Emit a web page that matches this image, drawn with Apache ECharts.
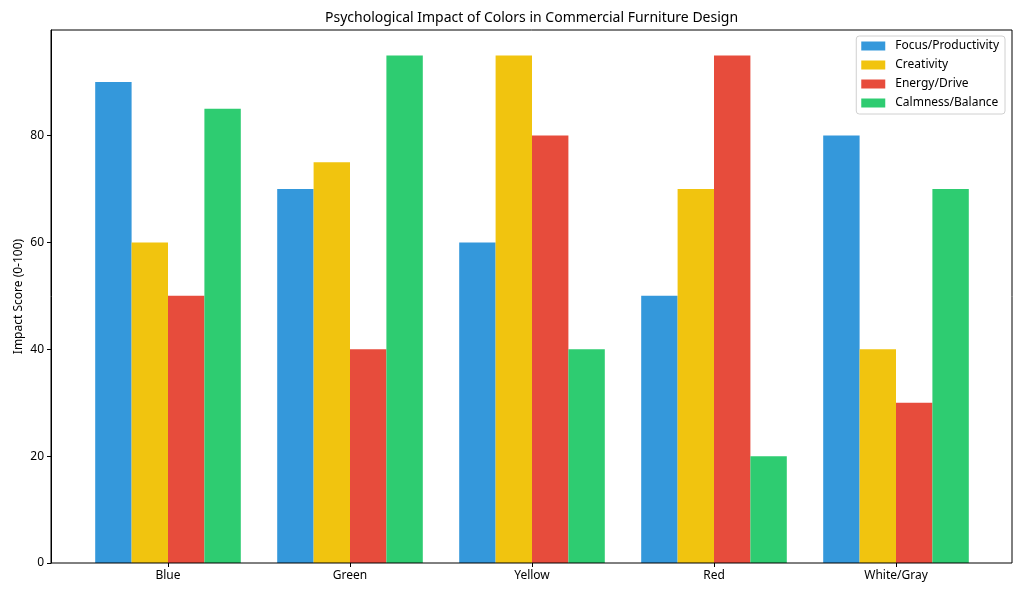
<!DOCTYPE html>
<html>
<head>
<meta charset="utf-8">
<script src="https://cdn.jsdelivr.net/npm/echarts@6/dist/echarts.min.js"></script>
<style>
html,body{margin:0;padding:0;background:#fff;}
#chart{width:1024px;height:597px;}
</style>
</head>
<body>
<div id="chart"></div>
<script>
const categories = ['Blue', 'Green', 'Yellow', 'Red', 'White/Gray'];
const focusProductivity = [90, 70, 60, 50, 80];
const creativity = [60, 75, 95, 70, 40];
const energyDrive = [50, 40, 80, 95, 30];
const calmnessBalance = [85, 95, 40, 20, 70];
const seriesNames = ['Focus/Productivity', 'Creativity', 'Energy/Drive', 'Calmness/Balance'];
const yTicks = [0, 20, 40, 60, 80];

const colors = ['#3498db', '#f1c40f', '#e74c3c', '#2ecc71'];
const FONT = 'Noto Sans';
const YMAX = 99.75;

const chart = echarts.init(document.getElementById('chart'), null, {renderer: 'canvas'});
const seriesData = [focusProductivity, creativity, energyDrive, calmnessBalance];

const option = {
  animation: false,
  textStyle: {fontFamily: FONT},
  title: {
    text: 'Psychological Impact of Colors in Commercial Furniture Design',
    left: 325,
    top: 11,
    padding: 0,
    textStyle: {fontFamily: FONT, fontSize: 14, fontWeight: 'normal', color: '#000'}
  },
  legend: {
    orient: 'vertical',
    right: 19,
    top: 36,
    padding: [3, 6, 4, 5],
    itemGap: 5,
    itemWidth: 24,
    itemHeight: 9,
    icon: 'rect',
    borderColor: '#d0d0d0',
    borderWidth: 1,
    borderRadius: 3,
    backgroundColor: 'rgba(255,255,255,0.8)',
    textStyle: {fontFamily: FONT, fontSize: 12, color: '#000', lineHeight: 14, padding: [0, 0, 0, 5]},
    data: seriesNames
  },
  grid: [
    {left: 51, top: 30, width: 961, height: 533, show: true, borderColor: '#000', borderWidth: 1, backgroundColor: 'transparent', z: 10},
    {left: 77, top: 30, width: 910, height: 533}
  ],
  xAxis: [
    {gridIndex: 0, type: 'value', min: 0, max: 1, show: false},
    {
      gridIndex: 1, type: 'category', data: categories,
      axisLine: {show: false},
      axisTick: {show: true, alignWithLabel: true, length: 4, lineStyle: {color: '#000'}},
      axisLabel: {margin: 7, fontFamily: FONT, fontSize: 12, color: '#000'},
      splitLine: {show: false}
    }
  ],
  yAxis: [
    {
      gridIndex: 0, type: 'value', min: 0, max: YMAX,
      name: 'Impact Score (0-100)', nameLocation: 'middle', nameGap: 26, nameMoveOverlap: false,
      nameTextStyle: {fontFamily: FONT, fontSize: 12, color: '#000'},
      axisLine: {show: true, lineStyle: {color: '#000'}},
      axisTick: {show: true, length: 4, lineStyle: {color: '#000'}, customValues: yTicks},
      axisLabel: {margin: 7, fontFamily: FONT, fontSize: 12, color: '#000', customValues: yTicks},
      splitLine: {show: false}
    },
    {gridIndex: 1, type: 'value', min: 0, max: YMAX, show: false, splitLine: {show: false}}
  ],
  series: seriesNames.map((name, i) => ({
    name: name,
    type: 'bar',
    xAxisIndex: 1,
    yAxisIndex: 1,
    data: seriesData[i],
    barWidth: 36.4,
    barGap: '0%',
    itemStyle: {color: colors[i]}
  }))
};
chart.setOption(option);
</script>
</body>
</html>
